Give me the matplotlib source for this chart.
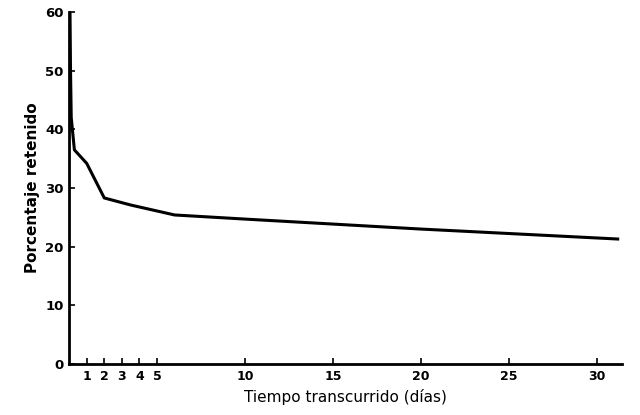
import numpy as np
import matplotlib.pyplot as plt

# data
dias = [0.05, 0.08, 0.12, 0.3, 1, 2, 3.5, 6, 10, 20, 31.2]
porcentaje = [60, 50, 42, 36.5, 34.2, 28.3, 27.1, 25.4, 24.7, 23.0, 21.3]

xticks = [1, 2, 3, 4, 5, 10, 15, 20, 25, 30]
yticks = [0, 10, 20, 30, 40, 50, 60]

fig = plt.figure(figsize=(6.4, 4.15), dpi=100)
ax = fig.add_axes([0.108, 0.123, 0.864, 0.848])

ax.plot(dias, porcentaje, color='black', lw=2.2, solid_joinstyle='round')

ax.set_xlim(0, 31.45)
ax.set_ylim(0, 60)
ax.set_xticks(xticks)
ax.set_yticks(yticks)
ax.set_xticklabels([str(t) for t in xticks], fontsize=9, fontweight='bold')
ax.set_yticklabels([str(t) for t in yticks], fontsize=9.5, fontweight='bold')
ax.tick_params(direction='in', length=4, width=1.2, pad=4)

for s in ['top', 'right']:
    ax.spines[s].set_visible(False)
for s in ['left', 'bottom']:
    ax.spines[s].set_linewidth(2)

ax.set_xlabel('Tiempo transcurrido (días)', fontsize=11, labelpad=5)
ax.set_ylabel('Porcentaje retenido', fontsize=11, fontweight='bold', labelpad=4)

plt.savefig('out.png', dpi=100)
